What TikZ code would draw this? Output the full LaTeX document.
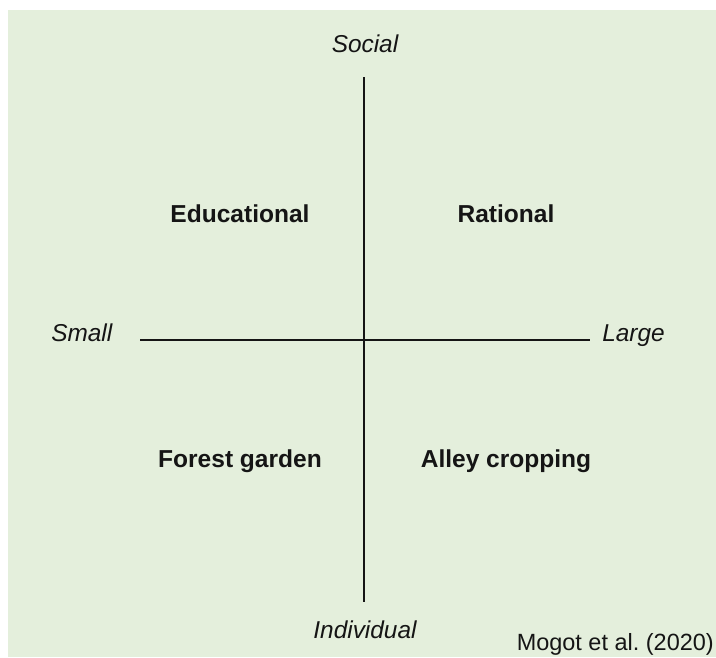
\documentclass[tikz,border=0pt]{standalone}
\usepackage{fontspec}
\setmainfont{Liberation Sans}
\frenchspacing
\definecolor{panel}{HTML}{E4EFDC}
\definecolor{ink}{HTML}{151515}
\begin{document}
\begin{tikzpicture}[x=0.75pt,y=-0.75pt,
  axis/.style={draw=ink,line width=1.5pt},
  polelabel/.style={font=\fontsize{18.3}{21}\selectfont\itshape,text=ink,inner sep=0pt,anchor=base},
  quadlabel/.style={font=\fontsize{18.4}{21}\selectfont\bfseries,text=ink,inner sep=0pt,anchor=base},
  source/.style={font=\fontsize{17.6}{21}\selectfont,text=ink,inner sep=0pt,anchor=base east}]
  \useasboundingbox (0,0) rectangle (716,657);
  \fill[white] (0,0) rectangle (716,657);
  \fill[panel] (8,10) rectangle (716,657);

  % axes
  \coordinate (top) at (364,77);
  \coordinate (bottom) at (364,602);
  \coordinate (left) at (140,340);
  \coordinate (right) at (590,340);
  \draw[axis] (top) -- (bottom);
  \draw[axis] (left) -- (right);

  % pole labels
  \node[polelabel] (social) at (365,52) {Social};
  \node[polelabel] (individual) at (365,638) {Individual};
  \node[polelabel,anchor=base west] (small) at (51,341) {Small};
  \node[polelabel,anchor=base west] (large) at (602,341) {Large};

  % quadrant labels
  \node[quadlabel] (edu) at (240,222) {Educational};
  \node[quadlabel] (rat) at (506,222) {Rational};
  \node[quadlabel] (forest) at (240,467) {Forest garden};
  \node[quadlabel] (alley) at (506,467) {Alley cropping};

  % source
  \node[source] (cite) at (714,650) {Mogot et al. (2020)};
\end{tikzpicture}
\end{document}
